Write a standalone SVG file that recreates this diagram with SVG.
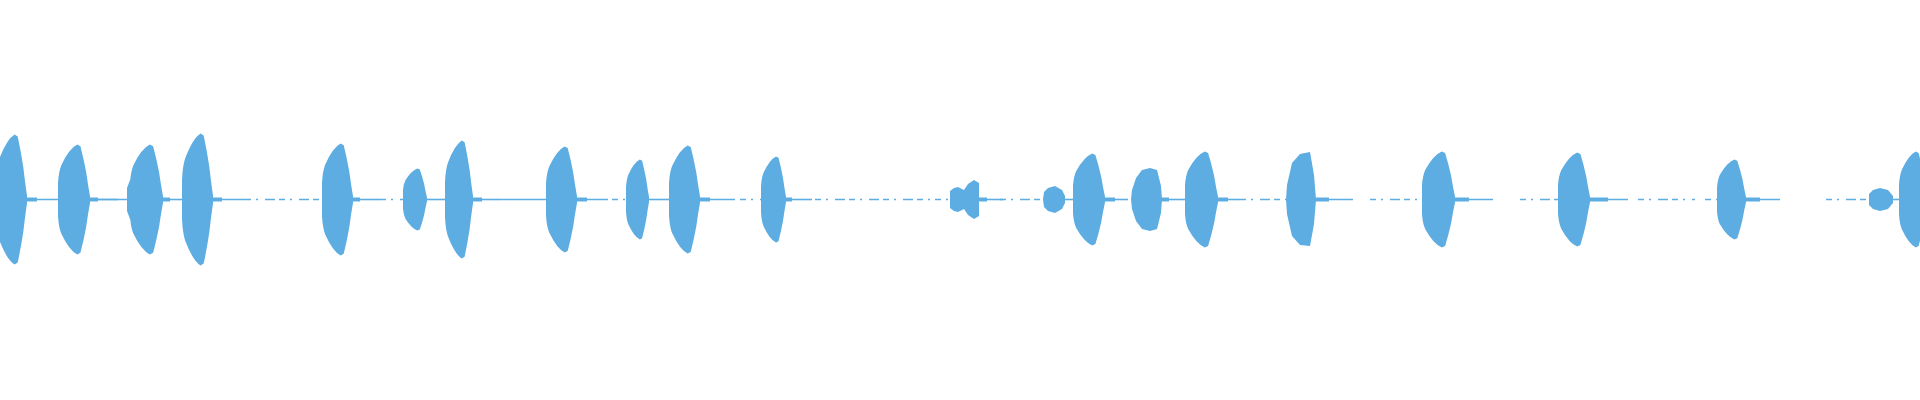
<svg xmlns="http://www.w3.org/2000/svg" xmlns:xlink="http://www.w3.org/1999/xlink" width="1920" height="400" viewBox="0 0 1920 400">
<style>
.w{fill:#5DADE2}
.b{stroke:#5DADE2;stroke-width:1.6;fill:none}
.d{stroke:#5DADE2;stroke-width:1.6;fill:none;stroke-dasharray:6 5 2 7 10 4}
</style>
<defs>
<path id="e" d="M0,-0.3 Q0.02,-0.5 0.1,-0.62 Q0.35,-0.93 0.6,-1 L0.7,-0.97 Q0.8,-0.75 0.88,-0.5 Q0.94,-0.25 1,-0.06 L1,0.06 Q0.94,0.25 0.88,0.5 Q0.8,0.75 0.7,0.97 L0.6,1 Q0.35,0.93 0.1,0.62 Q0.02,0.5 0,0.3 Z"/>
</defs>
<rect width="1920" height="400" fill="#fff"/>
<g id="baseline">
<line class="b" x1="25" y1="199.5" x2="118" y2="199.5"/>
<rect class="w" x="25" y="197.5" width="12" height="4"/>
<line class="b" x1="88" y1="199.5" x2="130" y2="199.5"/>
<rect class="w" x="88" y="197.5" width="10" height="4"/>
<line class="b" x1="160" y1="199.5" x2="185" y2="199.5"/>
<rect class="w" x="160" y="197.5" width="10" height="4"/>
<line class="b" x1="210" y1="199.5" x2="245" y2="199.5"/>
<rect class="w" x="210" y="197.5" width="12" height="4"/>
<line class="d" x1="245" y1="199.5" x2="322" y2="199.5"/>
<line class="b" x1="350" y1="199.5" x2="380" y2="199.5"/>
<rect class="w" x="350" y="197.5" width="10" height="4"/>
<line class="d" x1="380" y1="199.5" x2="403" y2="199.5"/>
<line class="b" x1="425" y1="199.5" x2="446" y2="199.5"/>
<line class="b" x1="470" y1="199.5" x2="500" y2="199.5"/>
<rect class="w" x="470" y="197.5" width="12" height="4"/>
<line class="b" x1="500" y1="199.5" x2="547" y2="199.5"/>
<line class="b" x1="575" y1="199.5" x2="608" y2="199.5"/>
<rect class="w" x="575" y="197.5" width="12" height="4"/>
<line class="d" x1="612" y1="199.5" x2="626" y2="199.5"/>
<line class="b" x1="647" y1="199.5" x2="670" y2="199.5"/>
<line class="b" x1="698" y1="199.5" x2="735" y2="199.5"/>
<rect class="w" x="698" y="197.5" width="12" height="4"/>
<line class="d" x1="740" y1="199.5" x2="762" y2="199.5"/>
<line class="b" x1="784" y1="199.5" x2="812" y2="199.5"/>
<rect class="w" x="784" y="197.5" width="8" height="4"/>
<line class="d" x1="815" y1="199.5" x2="930" y2="199.5"/>
<line class="d" x1="935" y1="199.5" x2="950" y2="199.5"/>
<line class="b" x1="977" y1="199.5" x2="1003" y2="199.5"/>
<rect class="w" x="977" y="197.5" width="10" height="4"/>
<line class="d" x1="1000" y1="199.5" x2="1043" y2="199.5"/>
<line class="b" x1="1063" y1="199.5" x2="1074" y2="199.5"/>
<line class="b" x1="1103" y1="199.5" x2="1128" y2="199.5"/>
<rect class="w" x="1103" y="197.5" width="12" height="4"/>
<line class="b" x1="1159" y1="199.5" x2="1186" y2="199.5"/>
<rect class="w" x="1159" y="197.5" width="10" height="4"/>
<line class="b" x1="1216" y1="199.5" x2="1240" y2="199.5"/>
<rect class="w" x="1216" y="197.5" width="12" height="4"/>
<line class="d" x1="1240" y1="199.5" x2="1286" y2="199.5"/>
<line class="b" x1="1313" y1="199.5" x2="1353" y2="199.5"/>
<rect class="w" x="1313" y="197.5" width="16" height="4"/>
<line class="d" x1="1370" y1="199.5" x2="1422" y2="199.5"/>
<line class="b" x1="1453" y1="199.5" x2="1493" y2="199.5"/>
<rect class="w" x="1453" y="197.5" width="16" height="4"/>
<line class="d" x1="1520" y1="199.5" x2="1558" y2="199.5"/>
<line class="b" x1="1588" y1="199.5" x2="1628" y2="199.5"/>
<rect class="w" x="1588" y="197.5" width="20" height="4"/>
<line class="d" x1="1638" y1="199.5" x2="1695" y2="199.5"/>
<line class="d" x1="1705" y1="199.5" x2="1717" y2="199.5"/>
<line class="b" x1="1744" y1="199.5" x2="1780" y2="199.5"/>
<rect class="w" x="1744" y="197.5" width="16" height="4"/>
<line class="d" x1="1826" y1="199.5" x2="1869" y2="199.5"/>
<line class="b" x1="1890" y1="199.5" x2="1900" y2="199.5"/>
</g>
<g id="envelopes" class="w">
<use href="#e" transform="translate(-4,199.5) scale(31,65)"/>
<use href="#e" transform="translate(58,199.5) scale(32,55)"/>
<path d="M127,199.5 L127,188 L130,180 L140,177 L142,199.5 L140,222 L130,219 L127,211 Z"/>
<use href="#e" transform="translate(130,199.5) scale(33,55)"/>
<use href="#e" transform="translate(182,199.5) scale(31,66)"/>
<use href="#e" transform="translate(322,199.5) scale(31,56)"/>
<use href="#e" transform="translate(403,199.5) scale(24,31)"/>
<use href="#e" transform="translate(445,199.5) scale(28,59)"/>
<use href="#e" transform="translate(546,199.5) scale(31,53)"/>
<use href="#e" transform="translate(626,199.5) scale(23,40)"/>
<use href="#e" transform="translate(669,199.5) scale(31,54)"/>
<use href="#e" transform="translate(761,199.5) scale(25,43)"/>
<path d="M950,199.5 L950,191 L954,188 L958,187 L964,190 L968,184 L974,180 L979,183 L979,216 L974,219 L968,215 L964,209 L958,212 L954,211 L950,208 Z"/>
<path d="M1043,199.5 L1044,192 L1048,188 L1055,186 L1062,190 L1065,196 L1065,203 L1062,209 L1055,213 L1048,211 L1044,207 Z"/>
<use href="#e" transform="translate(1073,199.5) scale(32,46)"/>
<path d="M1131,199.5 L1132,190 L1136,178 L1142,170 L1150,168 L1157,170 L1161,186 L1162,199.5 L1161,213 L1157,229 L1150,231 L1142,229 L1136,221 L1132,209 Z"/>
<use href="#e" transform="translate(1185,199.5) scale(33,48)"/>
<path d="M1286,199.5 L1287,185 L1292,163 L1300,154 L1310,152 L1314,175 L1316,199.5 L1314,224 L1310,246 L1300,245 L1292,236 L1287,214 Z"/>
<use href="#e" transform="translate(1422,199.5) scale(33,48)"/>
<use href="#e" transform="translate(1558,199.5) scale(32,47)"/>
<use href="#e" transform="translate(1717,199.5) scale(29,40)"/>
<path d="M1869,199.5 L1869,194 L1873,190 L1880,188 L1888,190 L1893,196 L1893,203 L1888,209 L1880,211 L1873,209 L1869,205 Z"/>
<use href="#e" transform="translate(1899,199.5) scale(28,48)"/>
</g>
</svg>
